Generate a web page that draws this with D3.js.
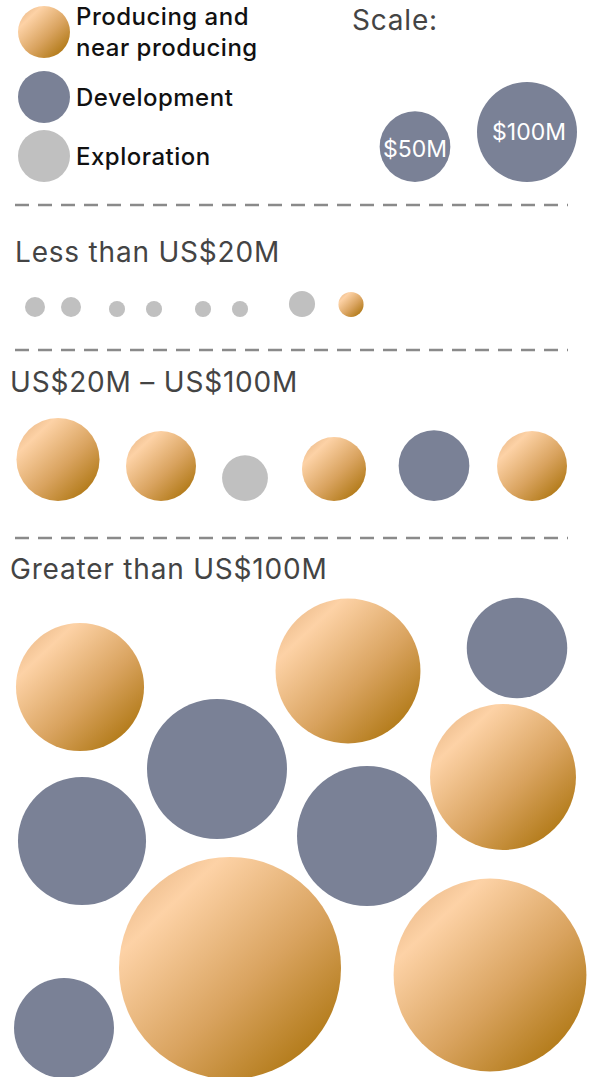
<!DOCTYPE html>
<html>
<head>
<meta charset="utf-8">
<script src="https://cdn.jsdelivr.net/npm/d3@7"></script>
<style>
  body { margin: 0; background: #fff; }
  text { font-family: Inter, Roboto, "Noto Sans", sans-serif; }
</style>
</head>
<body>
<div id="chart"></div>
<script>
  // stage categories and legend labels
  var stages = ["Producing", "Development", "Exploration"];
  var legendLines = [["Producing and", "near producing"], ["Development"], ["Exploration"]];

  // scale key values (US$M)
  var scaleValues = [50, 100];
  var scaleLabels = ["$50M", "$100M"];

  // group titles
  var groupTitles = ["Less than US$20M", "US$20M \u2013 US$100M", "Greater than US$100M"];

  // project values (US$M) and stage, one list per group
  var smallValues = [4, 4, 2.6, 2.6, 2.6, 2.6, 6.8, 6.3];
  var smallStages = ["Exploration", "Exploration", "Exploration", "Exploration", "Exploration", "Exploration", "Exploration", "Producing"];

  var midValues = [69, 49, 21, 41, 50, 49];
  var midStages = ["Producing", "Producing", "Exploration", "Producing", "Development", "Producing"];

  var bigValues = [164, 210, 101, 196, 213, 164, 196, 493, 372, 100];
  var bigStages = ["Producing", "Producing", "Development", "Development", "Producing", "Development", "Development", "Producing", "Producing", "Development"];

  // layout hints for the hand-arranged bubbles (settled with a force sim below)
  var smallHintX = [35, 71, 117, 154, 203, 240, 302, 351];
  var midHintX = [58, 161, 245, 334, 434, 532];
  var bigHintX = [80, 348, 517, 217, 503, 82, 367, 230, 490, 64];
  var bigHintY = [687, 671, 648, 769, 777, 841, 836, 968, 975, 1028];

  var svgWidth = 590;
  var svgHeight = 1077;

  var svg = d3.select("#chart")
    .append("svg")
    .attr("width", svgWidth)
    .attr("height", svgHeight);

  // gold gradient for producing bubbles
  var defs = svg.append("defs");
  var grad = defs.append("linearGradient")
    .attr("id", "gold")
    .attr("x1", "0.05").attr("y1", "0.05")
    .attr("x2", "0.9").attr("y2", "0.95");
  grad.append("stop").attr("offset", "0").attr("stop-color", "#e6b483");
  grad.append("stop").attr("offset", "0.2").attr("stop-color", "#fdd2a6");
  grad.append("stop").attr("offset", "0.6").attr("stop-color", "#d9a35f");
  grad.append("stop").attr("offset", "1").attr("stop-color", "#ab730c");

  var color = d3.scaleOrdinal()
    .domain(stages)
    .range(["url(#gold)", "#7a8196", "#c0c0c0"]);

  // bubble area proportional to value
  var rScale = d3.scaleSqrt().domain([0, 100]).range([0, 50]);

  // ---- legend
  var legendY = [32, 97, 156];
  var legend = svg.append("g");
  stages.forEach(function(s, i) {
    var cy = legendY[i];
    legend.append("circle")
      .attr("cx", 44).attr("cy", cy).attr("r", 26)
      .attr("fill", color(s));
    var t = legend.append("text")
      .attr("x", 76)
      .attr("y", legendLines[i].length > 1 ? 25 : cy + 9)
      .attr("font-size", 24)
      .attr("font-weight", 500)
      .attr("letter-spacing", 0.5)
      .attr("fill", "#111");
    legendLines[i].forEach(function(line, j) {
      t.append("tspan").attr("x", 76).attr("dy", j === 0 ? 0 : 31).text(line);
    });
  });

  // ---- scale key
  svg.append("text")
    .attr("x", 352).attr("y", 30)
    .attr("font-size", 28)
    .attr("letter-spacing", 0.8)
    .attr("fill", "#444")
    .text("Scale:");

  var keyX = [415, 527];
  var keyBottom = 182;
  var key = svg.append("g").selectAll("g")
    .data(scaleValues)
    .enter()
    .append("g");
  key.append("circle")
    .attr("cx", (d, i) => keyX[i])
    .attr("cy", d => keyBottom - rScale(d))
    .attr("r", d => rScale(d))
    .attr("fill", color("Development"));
  key.append("text")
    .attr("x", (d, i) => keyX[i] + (i ? 2 : 0))
    .attr("y", (d, i) => keyBottom - rScale(d) + (i ? 8 : 10))
    .attr("text-anchor", "middle")
    .attr("font-size", 23)
    .attr("fill", "#fff")
    .text((d, i) => scaleLabels[i]);

  // ---- dividers and titles
  var dividerY = [205, 350, 538];
  svg.append("g").selectAll("line")
    .data(dividerY)
    .enter()
    .append("line")
    .attr("x1", 15).attr("x2", 568)
    .attr("y1", d => d).attr("y2", d => d)
    .attr("stroke", "#8a8a8a")
    .attr("stroke-width", 2.5)
    .attr("stroke-dasharray", "14,9");

  var titleX = [15, 10, 10];
  var titleY = [262, 392, 579];
  svg.append("g").selectAll("text")
    .data(groupTitles)
    .enter()
    .append("text")
    .attr("x", (d, i) => titleX[i])
    .attr("y", (d, i) => titleY[i])
    .attr("font-size", 28)
    .attr("letter-spacing", 0.8)
    .attr("fill", "#444")
    .text(d => d);

  // ---- bubble groups
  function settle(nodes) {
    var sim = d3.forceSimulation(nodes)
      .force("x", d3.forceX(d => d.hx).strength(0.6))
      .force("y", d3.forceY(d => d.hy).strength(0.6))
      .force("collide", d3.forceCollide(d => d.r + 1))
      .stop();
    for (var i = 0; i < 200; i++) sim.tick();
    return nodes;
  }

  function drawRow(values, stagesList, hintX, baseline) {
    var nodes = values.map(function(v, i) {
      var r = rScale(v);
      return { value: v, stage: stagesList[i], r: r, hx: hintX[i], hy: baseline - r, x: hintX[i], y: baseline - r };
    });
    draw(settle(nodes));
  }

  function draw(nodes) {
    svg.append("g").selectAll("circle")
      .data(nodes)
      .enter()
      .append("circle")
      .attr("cx", d => d.x)
      .attr("cy", d => d.y)
      .attr("r", d => d.r)
      .attr("fill", d => color(d.stage));
  }

  drawRow(smallValues, smallStages, smallHintX, 317);
  drawRow(midValues, midStages, midHintX, 501);

  var bigNodes = bigValues.map(function(v, i) {
    return { value: v, stage: bigStages[i], r: rScale(v), hx: bigHintX[i], hy: bigHintY[i], x: bigHintX[i], y: bigHintY[i] };
  });
  draw(settle(bigNodes));
</script>
</body>
</html>
